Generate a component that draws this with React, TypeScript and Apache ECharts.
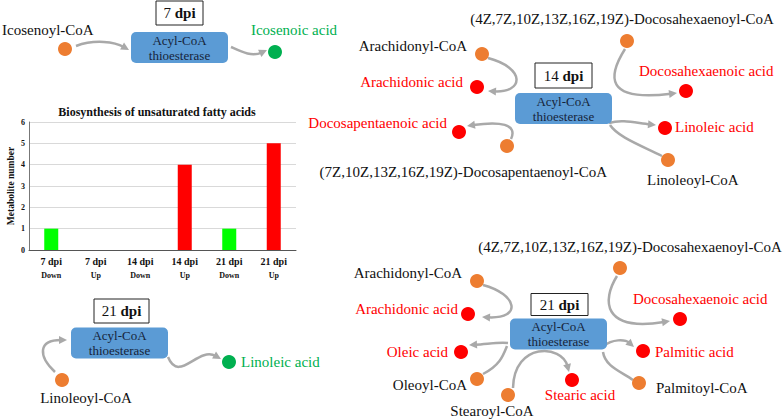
import React, { useEffect, useRef } from "react";
import * as echarts from "echarts";

// ---- Bar chart data ----
const barCategories = ["7 dpi", "7 dpi", "14 dpi", "14 dpi", "21 dpi", "21 dpi"];
const barDirections = ["Down", "Up", "Down", "Up", "Down", "Up"];
const metaboliteCounts = [1, 0, 0, 4, 1, 5];
const chartTitle = "Biosynthesis of unsaturated fatty acids";
const yAxisName = "Metabolite number";

// ---- Pathway diagram labels ----
const dpiLabels = ["7", "14", "21", "21"];
const panel7Substrates = ["Icosenoyl-CoA"];
const panel7Products = ["Icosenoic acid"];
const panel21aSubstrates = ["Linoleoyl-CoA"];
const panel21aProducts = ["Linoleic acid"];
const panel14Substrates = [
  "(4Z,7Z,10Z,13Z,16Z,19Z)-Docosahexaenoyl-CoA",
  "Arachidonyl-CoA",
  "(7Z,10Z,13Z,16Z,19Z)-Docosapentaenoyl-CoA",
  "Linoleoyl-CoA",
];
const panel14Products = [
  "Docosahexaenoic acid",
  "Arachidonic acid",
  "Docosapentaenoic acid",
  "Linoleic acid",
];
const panel21bSubstrates = [
  "(4Z,7Z,10Z,13Z,16Z,19Z)-Docosahexaenoyl-CoA",
  "Arachidonyl-CoA",
  "Oleoyl-CoA",
  "Stearoyl-CoA",
  "Palmitoyl-CoA",
];
const panel21bProducts = [
  "Docosahexaenoic acid",
  "Arachidonic acid",
  "Oleic acid",
  "Stearic acid",
  "Palmitic acid",
];
const enzymeName = "Acyl-CoA\nthioesterase";

const SERIF = '"Liberation Serif", "Times New Roman", serif';
const ORANGE = "#ed7d31";
const RED = "#ff0000";
const GREEN = "#00b050";
const GRAY = "#a9a9a9";
const BLACK = "#111111";

function txt(x: number, y: number, text: string, color: string, align = "left", size = 15, weight = "normal") {
  return {
    type: "text",
    x,
    y,
    z: 10,
    style: {
      text,
      fill: color,
      font: `${weight} ${size}px ${SERIF}`,
      textAlign: align,
      textVerticalAlign: "middle",
      align,
      verticalAlign: "middle",
    },
  };
}

function dot(cx: number, cy: number, color: string) {
  return { type: "circle", z: 8, shape: { cx, cy, r: 7 }, style: { fill: color } };
}

function curve(p0: number[], c1: number[], c2: number[], p1: number[], head = true) {
  const out: any[] = [];
  let end = p1;
  if (head) {
    const dx = p1[0] - c2[0];
    const dy = p1[1] - c2[1];
    const len = Math.sqrt(dx * dx + dy * dy) || 1;
    const ux = dx / len;
    const uy = dy / len;
    const bx = p1[0] - ux * 8;
    const by = p1[1] - uy * 8;
    const nx = -uy;
    const ny = ux;
    out.push({
      type: "polygon",
      z: 6,
      shape: {
        points: [
          [p1[0], p1[1]],
          [bx + nx * 4, by + ny * 4],
          [bx - nx * 4, by - ny * 4],
        ],
      },
      style: { fill: GRAY },
    });
    end = [p1[0] - ux * 6, p1[1] - uy * 6];
  }
  out.push({
    type: "bezierCurve",
    z: 5,
    shape: {
      x1: p0[0], y1: p0[1],
      cpx1: c1[0], cpy1: c1[1],
      cpx2: c2[0], cpy2: c2[1],
      x2: end[0], y2: end[1],
    },
    style: { stroke: GRAY, lineWidth: 2.5, fill: null },
  });
  return out;
}

function enzyme(cx: number, cy: number) {
  return [
    {
      type: "rect",
      z: 7,
      shape: { x: cx - 48.5, y: cy - 15.5, width: 97, height: 31, r: 5 },
      style: { fill: "#5b9bd5" },
    },
    {
      type: "text",
      x: cx,
      y: cy,
      z: 10,
      style: {
        text: enzymeName,
        fill: "#16243a",
        font: `normal 13px ${SERIF}`,
        lineHeight: 15,
        textAlign: "center",
        textVerticalAlign: "middle",
        align: "center",
        verticalAlign: "middle",
      },
    },
  ];
}

function dpiBox(cx: number, cy: number, w: number, h: number, num: string) {
  return [
    {
      type: "rect",
      z: 7,
      shape: { x: cx - w / 2, y: cy - h / 2, width: w, height: h },
      style: { fill: "#ffffff", stroke: "#222222", lineWidth: 1 },
    },
    {
      type: "text",
      x: cx,
      y: cy,
      z: 10,
      style: {
        text: `{n|${num} }{b|dpi}`,
        textAlign: "center",
        textVerticalAlign: "middle",
        align: "center",
        verticalAlign: "middle",
        rich: {
          n: { fontFamily: SERIF, fontSize: 15, fontWeight: "normal", fill: BLACK, color: BLACK },
          b: { fontFamily: SERIF, fontSize: 15, fontWeight: "bold", fill: BLACK, color: BLACK },
        },
      },
    },
  ];
}

function buildGraphics() {
  const g: any[] = [];
  // ---- Panel 7 dpi ----
  g.push(...dpiBox(179.5, 13, 47, 24, dpiLabels[0]));
  g.push(...enzyme(179.5, 47.5));
  g.push(dot(65, 49, ORANGE));
  g.push(txt(2, 30, panel7Substrates[0], BLACK, "left"));
  g.push(dot(275, 52, GREEN));
  g.push(txt(294, 30, panel7Products[0], GREEN, "center"));
  g.push(...curve([76, 46], [95, 39], [115, 42], [129, 50]));
  g.push(...curve([231, 47], [242, 52], [252, 57], [267, 50]));

  // ---- Panel 21 dpi (left) ----
  g.push(...dpiBox(121.5, 311, 55, 24, dpiLabels[2]));
  g.push(...enzyme(119.5, 343));
  g.push(dot(62, 380, ORANGE));
  g.push(txt(86, 398, panel21aSubstrates[0], BLACK, "center"));
  g.push(dot(229, 362, GREEN));
  g.push(txt(241, 362, panel21aProducts[0], GREEN, "left"));
  g.push(...curve([55, 372], [38, 356], [38, 340], [67, 340]));
  g.push(...curve([168, 357], [179, 384], [198, 346], [221, 359]));

  // ---- Panel 14 dpi ----
  g.push(...dpiBox(563.5, 75.5, 57, 25, dpiLabels[1]));
  g.push(...enzyme(563.5, 108.5));
  g.push(txt(622, 19, panel14Substrates[0], BLACK, "center"));
  g.push(dot(627, 41, ORANGE));
  g.push(txt(467, 46, panel14Substrates[1], BLACK, "right"));
  g.push(dot(482, 54, ORANGE));
  g.push(txt(463, 82, panel14Products[1], RED, "right"));
  g.push(dot(477, 87, RED));
  g.push(txt(639, 71, panel14Products[0], RED, "left"));
  g.push(dot(686, 91, RED));
  g.push(txt(447, 123, panel14Products[2], RED, "right"));
  g.push(dot(459, 132, RED));
  g.push(txt(607, 172, panel14Substrates[2], BLACK, "right"));
  g.push(dot(507, 146, ORANGE));
  g.push(txt(675, 127, panel14Products[3], RED, "left"));
  g.push(dot(665, 128, RED));
  g.push(txt(647, 180, panel14Substrates[3], BLACK, "left"));
  g.push(dot(668, 160, ORANGE));
  g.push(...curve([488, 58], [526, 68], [524, 93], [488, 91]));
  g.push(...curve([625, 49], [608, 76], [604, 102], [677, 93]));
  g.push(...curve([511, 139], [518, 124], [500, 121], [467, 126]));
  g.push(...curve([609, 123], [622, 119], [636, 123], [656, 125]));
  g.push(...curve([610, 125], [618, 137], [640, 145], [662, 156], false));

  // ---- Panel 21 dpi (right) ----
  g.push(txt(630, 247, panel21bSubstrates[0], BLACK, "center"));
  g.push(dot(620, 268, ORANGE));
  g.push(txt(462, 273, panel21bSubstrates[1], BLACK, "right"));
  g.push(dot(477, 281, ORANGE));
  g.push(...dpiBox(559.5, 304.5, 57, 22, dpiLabels[3]));
  g.push(...enzyme(558.5, 334));
  g.push(txt(633, 299, panel21bProducts[0], RED, "left"));
  g.push(dot(680, 319, RED));
  g.push(txt(458, 309, panel21bProducts[1], RED, "right"));
  g.push(dot(468, 314, RED));
  g.push(txt(448, 352, panel21bProducts[2], RED, "right"));
  g.push(dot(461, 352, RED));
  g.push(txt(655, 352, panel21bProducts[4], RED, "left"));
  g.push(dot(643, 351, RED));
  g.push(dot(477, 379, ORANGE));
  g.push(txt(467, 385, panel21bSubstrates[2], BLACK, "right"));
  g.push(dot(508, 395, ORANGE));
  g.push(txt(492, 411, panel21bSubstrates[3], BLACK, "center"));
  g.push(dot(572, 380, RED));
  g.push(txt(580, 395, panel21bProducts[3], RED, "center"));
  g.push(dot(639, 383, ORANGE));
  g.push(txt(656, 388, panel21bSubstrates[4], BLACK, "left"));
  g.push(...curve([483, 285], [517, 294], [523, 319], [482, 317]));
  g.push(...curve([617, 276], [602, 300], [602, 332], [670, 321]));
  g.push(...curve([508, 343], [498, 342], [488, 344], [469, 345]));
  g.push(...curve([483, 374], [500, 365], [503, 356], [507, 346], false));
  g.push(...curve([513, 388], [514, 342], [562, 344], [569, 372]));
  g.push(...curve([604, 346], [612, 339], [625, 339], [634, 347]));
  g.push(...curve([603, 352], [605, 366], [620, 371], [633, 380], false));
  return g;
}

export default function App() {
  const ref = useRef<HTMLDivElement>(null);
  useEffect(() => {
    document.body.style.margin = "0";
    if (!ref.current) return;
    const chart = echarts.init(ref.current, null, { renderer: "svg" });
    chart.setOption({
      animation: false,
      backgroundColor: "#ffffff",
      title: {
        text: chartTitle,
        left: 152,
        top: 101,
        textAlign: "center",
        textStyle: { fontFamily: SERIF, fontSize: 12, fontWeight: "bold", color: "#111" },
      },
      grid: { left: 29, top: 122, width: 267, height: 128, containLabel: false },
      xAxis: {
        type: "category",
        data: barCategories.map((c, i) => `${c}\n${barDirections[i]}`),
        axisLine: { lineStyle: { color: "#555", width: 1 } },
        axisTick: { show: false },
        axisLabel: {
          interval: 0,
          margin: 4,
          formatter: (v: string) => {
            const [a, b] = v.split("\n");
            return `{a|${a}}\n{b|${b}}`;
          },
          rich: {
            a: { fontFamily: SERIF, fontSize: 10, fontWeight: "bold", color: "#111", lineHeight: 15 },
            b: { fontFamily: SERIF, fontSize: 8, fontWeight: "bold", color: "#111", lineHeight: 13 },
          },
        },
      },
      yAxis: {
        type: "value",
        min: 0,
        max: 6,
        interval: 1,
        name: yAxisName,
        nameLocation: "middle",
        nameGap: 13,
        nameTextStyle: { fontFamily: SERIF, fontSize: 9.5, fontWeight: "bold", color: "#111" },
        axisLine: { show: true, lineStyle: { color: "#777", width: 1 } },
        axisTick: { show: false },
        axisLabel: { fontFamily: SERIF, fontSize: 8, fontWeight: "bold", color: "#111", margin: 4 },
        splitLine: { lineStyle: { color: "#d9d9d9", width: 1 } },
      },
      series: [
        {
          type: "bar",
          data: metaboliteCounts,
          barWidth: 14,
          itemStyle: {
            color: (p: any) => (barDirections[p.dataIndex] === "Up" ? "#ff0000" : "#00ff00"),
          },
        },
      ],
      graphic: { elements: buildGraphics() },
    });
    return () => chart.dispose();
  }, []);
  return <div ref={ref} style={{ width: 784, height: 419, position: "absolute", left: 0, top: 0 }} />;
}
